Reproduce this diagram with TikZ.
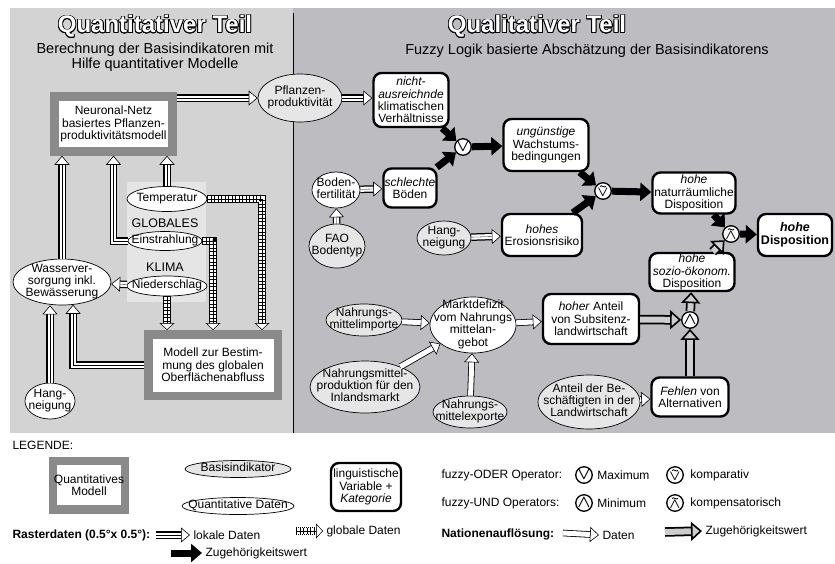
\documentclass[tikz,border=0pt]{standalone}
\usepackage{fontspec}
\setmainfont{Liberation Sans}
\usepackage{contour}
\usepackage{tikz}
\usetikzlibrary{positioning}
\usetikzlibrary {arrows.meta}
\usetikzlibrary{shapes.geometric}

\definecolor{links}{RGB}{211,211,211}
\definecolor{rechts}{RGB}{189,189,193}
\definecolor{klima}{RGB}{229,229,229}
\definecolor{rahmen}{RGB}{138,138,138}
\definecolor{basis}{RGB}{230,230,230}
\definecolor{zgrau}{RGB}{205,205,205}
\contourlength{0.8pt}

\newcommand{\etxt}[1]{\smash{\makebox[0pt]{\raisebox{-3pt}{\begin{tabular}{@{}c@{}}#1\end{tabular}}}}}
\newcommand{\titel}[1]{{\fontsize{24}{24}\selectfont\bfseries\textcolor{white}{\contour{black}{#1}}}}
\newcommand{\oder}{{\boldmath$\vee$}}
\newcommand{\und}{{\boldmath$\wedge$}}
% kompensatorisch / komparativ: Tilde wird gezeichnet
\newcommand{\oderk}{\raisebox{-5pt}[4pt][4pt]{\fontsize{14}{14}\selectfont\oder}}
\newcommand{\undk}{\raisebox{-5pt}[4pt][4pt]{\fontsize{14}{14}\selectfont\und}}

\tikzset{
  modell/.style={draw=rahmen, line width=8.5pt, fill=white, align=center, inner sep=1pt},
  basisind/.style={ellipse, draw, line width=.7pt, fill=basis, inner sep=0pt},
  qdaten/.style={ellipse, draw, line width=.7pt, fill=white, inner sep=0pt},
  lingvar/.style={draw, line width=2.4pt, rounded corners=8pt, fill=white, align=center, inner sep=1pt},
  op/.style={circle, draw, line width=1.3pt, fill=white, inner sep=0pt, minimum size=16.5pt,
    font=\fontsize{18}{18}\selectfont},
  opk/.style={op, path picture={\draw[line width=.9pt]
    ([xshift=-3pt, yshift=4.6pt]path picture bounding box.center)
    .. controls +(1.5pt,2pt) and +(-1.5pt,-2pt) .. +(6pt,0pt);}},
  % Rasterdaten, lokal
  lokal/.style={draw=white, line width=5pt,
    -{Triangle[color=black, fill=white, line width=.6pt, length=9pt, width=15pt]},
    preaction={draw=black, line width=7.5pt, -, shorten >=5.5pt},
    postaction={draw=black, line width=.3pt, -, shorten >=9pt}},
  % Rasterdaten, global
  glob/.style={draw=white, line width=6pt,
    -{Triangle[color=black, fill=white, line width=.5pt, length=7pt, width=15pt]},
    preaction={draw=black, line width=8pt, dash pattern=on 1.2pt off .8pt, -, shorten >=4pt},
    postaction={draw=black, line width=6pt, dash pattern=on .5pt off 3pt, -, shorten >=7pt},
    postaction={draw=black, line width=.4pt, -, shorten >=7pt}},
  % Nationen, Daten
  dat/.style={draw=white, line width=5pt,
    -{Triangle[color=black, fill=white, line width=.6pt, length=9pt, width=15pt]},
    preaction={draw=black, line width=6.6pt, -, shorten >=5pt}},
  zug/.style={draw=black, line width=7pt, -{Triangle[length=11pt, width=18pt]}},
  nzug/.style={draw=zgrau, line width=6pt,
    -{Triangle[color=black, fill=zgrau, line width=1.6pt, length=11pt, width=19pt]},
    preaction={draw=black, line width=9.5pt, -, shorten >=7pt}}
}

\begin{document}
\begin{tikzpicture}[x=1pt, y=-1pt, font=\fontsize{12}{12.4}\selectfont]
  \useasboundingbox (0,0) rectangle (835,563);
  %% hintergrund
  \fill[links] (10,8) rectangle (293,433);
  \fill[rechts] (293,8) rectangle (835,433);
  \fill[klima] (127,182) rectangle (206,302);
  \draw[line width=1pt] (293,13) -- (293,433);

  %% titel
  \node (t1) at (155,27) {\titel{Quantitativer Teil}};
  \node (t2) at (537,27) {\titel{Qualitativer Teil}};
  \node[align=center, font=\fontsize{14.5}{15}\selectfont] (t3) at (155,57)
    {Berechnung der Basisindikatoren mit\\Hilfe quantitativer Modelle};
  \node[font=\fontsize{14.5}{15}\selectfont] (t4) at (587,51)
    {Fuzzy Logik basierte Abschätzung der Basisindikatorens};

  %% quantitativer teil
  \node[modell, minimum width=118pt, minimum height=55pt] (q1) at (113.5,124)
    {Neuronal-Netz\\basiertes Pflanzen-\\produktivitätsmodell};
  \node[modell, minimum width=129.5pt, minimum height=61.5pt] (q2) at (213,365)
    {Modell zur Bestim-\\mung des globalen\\Oberflächenabfluss};
  \node[qdaten, minimum width=80pt, minimum height=25pt] (q3) at (167,199) {\etxt{Temperatur}};
  \node[qdaten, minimum width=74pt, minimum height=19pt] (q4) at (165,241) {\etxt{Einstrahlung}};
  \node[qdaten, minimum width=80pt, minimum height=20pt] (q5) at (167,286) {\etxt{Niederschlag}};
  \node[qdaten, minimum width=98pt, minimum height=46pt] (q6) at (62,282)
    {\etxt{Wasserver-\\sorgung inkl.\\Bewässerung}};
  \node[qdaten, minimum width=50pt, minimum height=36pt] (q7) at (50,401) {\etxt{Hang-\\neigung}};
  \node[font=\fontsize{12.5}{13}\selectfont] (k1) at (165,223) {GLOBALES};
  \node[font=\fontsize{12.5}{13}\selectfont] (k2) at (165,267) {KLIMA};

  %% qualitativer teil
  \node[basisind, minimum width=84pt, minimum height=48pt] (f1) at (300,98) {\etxt{Pflanzen-\\produktivität}};
  \node[lingvar, minimum width=75pt, minimum height=54pt] (f2) at (411,100)
    {\textit{nicht-}\\\textit{ausreichnde}\\klimatischen\\Verhältnisse};
  \node[op] (o1) at (463,147) {\oder};
  \node[lingvar, minimum width=53pt, minimum height=39pt] (f3) at (410,188) {\textit{schlechte}\\Böden};
  \node[qdaten, minimum width=48pt, minimum height=36pt] (f4) at (336,190) {\etxt{Boden-\\fertilität}};
  \node[basisind, minimum width=56pt, minimum height=44pt] (f5) at (337,246) {\etxt{FAO\\Bodentyp}};
  \node[lingvar, minimum width=85pt, minimum height=52pt] (f6) at (546,145)
    {\textit{ungünstige}\\Wachstums-\\bedingungen};
  \node[opk] (o2) at (603,191) {\oderk};
  \node[basisind, minimum width=54pt, minimum height=34pt] (f7) at (444,238) {\etxt{Hang-\\neigung}};
  \node[lingvar, minimum width=80pt, minimum height=42pt] (f8) at (542,235) {\textit{hohes}\\Erosionsrisiko};
  \node[lingvar, minimum width=83pt, minimum height=41pt] (f9) at (694,193)
    {\textit{hohe}\\naturräumliche\\Disposition};
  \node[opk] (o3) at (731,234) {\undk};
  \node[lingvar, minimum width=74pt, minimum height=42pt, font=\fontsize{12.5}{13}\selectfont\bfseries] (f10)
    at (795,235) {\textit{hohe}\\Disposition};
  \node[lingvar, minimum width=85pt, minimum height=37pt] (f11) at (692,272)
    {\textit{hohe}\\\textit{sozio-ökonom.}\\Disposition};
  \node[op] (o4) at (690,320) {\und};
  \node[lingvar, minimum width=96pt, minimum height=50pt] (f12) at (591,319)
    {\textit{hoher} Anteil\\von Subsitenz-\\landwirtschaft};
  \node[lingvar, minimum width=77pt, minimum height=39pt] (f13) at (690,397) {\textit{Fehlen} von\\Alternativen};
  \node[basisind, minimum width=102pt, minimum height=54pt] (f14) at (589,402)
    {\etxt{Anteil der Be-\\schäftigten in der\\Landwirtschaft}};
  \node[qdaten, minimum width=86pt, minimum height=56pt] (f15) at (473,325)
    {\etxt{Marktdefizit\\vom Nahrungs\\mittelan-\\gebot}};
  \node[basisind, minimum width=76pt, minimum height=32pt] (f16) at (364,320) {\etxt{Nahrungs-\\mittelimporte}};
  \node[basisind, minimum width=110pt, minimum height=52pt] (f17) at (365,387)
    {\etxt{Nahrungsmittel-\\produktion für den\\Inlandsmarkt}};
  \node[basisind, minimum width=74pt, minimum height=32pt] (f18) at (470,412) {\etxt{Nahrungs-\\mittelexporte}};

  %% legende
  \node[anchor=west] (l0) at (9,445) {LEGENDE:};
  \node[modell, minimum width=72pt, minimum height=48.5pt] (l1) at (89,485) {Quantitatives\\Modell};
  \node[basisind, minimum width=106pt, minimum height=17pt] (l2) at (238,469) {\etxt{Basisindikator}};
  \node[qdaten, minimum width=112pt, minimum height=17pt] (l3) at (238,506) {\etxt{Quantitative Daten}};
  \node[lingvar, minimum width=70pt, minimum height=48pt] (l4) at (366,487)
    {linguistische\\Variable +\\\textit{Kategorie}};
  \node[anchor=west, font=\fontsize{12}{12.4}\selectfont\bfseries] (l5) at (9,535) {Rasterdaten (0.5°x 0.5°):};
  \coordinate (l6) at (156,535);
  \node[anchor=west] (l7) at (190,535) {lokale Daten};
  \coordinate (l8) at (296,531);
  \node[anchor=west] (l9) at (323,531) {globale Daten};
  \coordinate (l10) at (171,553);
  \node[anchor=west] (l11) at (202,553) {Zugehörigkeitswert};
  \node[anchor=west] (l12) at (438,475) {fuzzy-ODER Operator:};
  \node[op] (l13) at (584,475) {\oder};
  \node[right=1pt of l13] (l14) {Maximum};
  \node[opk] (l15) at (675,475) {\oderk};
  \node[right=3pt of l15] (l16) {komparativ};
  \node[anchor=west] (l17) at (438,503) {fuzzy-UND Operators:};
  \node[op] (l18) at (584,503) {\und};
  \node[right=1pt of l18] (l19) {Minimum};
  \node[opk] (l20) at (675,503) {\undk};
  \node[right=3pt of l20] (l21) {kompensatorisch};
  \node[anchor=west, font=\fontsize{12}{12.4}\selectfont\bfseries] (l22) at (438,534) {Nationenauflösung:};
  \coordinate (l23) at (563,533);
  \node[anchor=west] (l24) at (599,535) {Daten};
  \coordinate (l25) at (665,532);
  \node[anchor=west] (l26) at (702,531) {Zugehörigkeitswert};

  %% pfeile links
  \draw[lokal] (q1.east |- f1) -- (f1.west);
  \draw[lokal] (q6) -- (q6 |- q1.south);
  \draw[lokal] (q4.west) -| (q1.south);
  \draw[lokal] (q3) -- (q3 |- q1.south);
  \draw[lokal] (q5) -- (q6);
  \draw[lokal] (q2.west) -| (q6.-64);
  \draw[lokal] (q7) -- (q7 |- q6.south);
  \draw[glob] (q5) -- (q5 |- q2.north);
  \draw[glob] (q4.east) -| (q2.north);
  \draw[glob] (q3.east) -| ([xshift=-20pt]q2.north east);

  %% pfeile rechts
  \draw[lokal] (f1.east) -- (f1.east -| f2.west);
  \draw[zug] (f2) -- (o1);
  \draw[zug] (f3) -- (o1);
  \draw[zug] (o1) -- (f6);
  \draw[lokal] (f4) -- (f3);
  \draw[lokal] (f5) -- (f4);
  \draw[zug] (f6) -- (o2);
  \draw[zug] (f8) -- (o2);
  \draw[zug] (o2) -- (f9);
  \draw[lokal] (f7) -- (f8);
  \draw[zug] (f9) -- (o3);
  \draw[nzug] (f11) -- (o3);
  \draw[zug] (o3) -- (f10);
  \draw[nzug] (f12) -- (o4);
  \draw[nzug] (f13) -- (o4);
  \draw[nzug] (o4) -- (f11);
  \draw[dat] (f14) -- (f13);
  \draw[dat] (f15) -- (f12);
  \draw[dat] (f16) -- (f15);
  \draw[dat] (f17) -- (f15);
  \draw[dat] (f18) -- (f15);

  %% pfeile legende
  \draw[lokal] (l6) -- (l7.west);
  \draw[glob] (l8) -- (l9.west);
  \draw[zug] (l10) -- (l11.west);
  \draw[dat] (l23) -- (l24.west);
  \draw[nzug] (l25) -- (l26.west);
\end{tikzpicture}
\end{document}
